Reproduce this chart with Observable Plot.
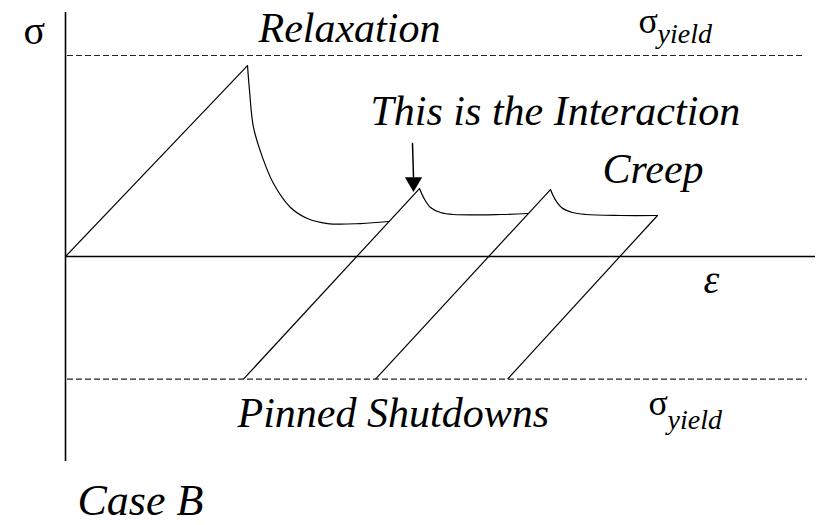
<!DOCTYPE html>
<html><head><meta charset="utf-8">
<script src="https://cdn.jsdelivr.net/npm/d3@7"></script>
<script src="https://cdn.jsdelivr.net/npm/@observablehq/plot@0.6"></script>
<style>
body{margin:0;background:#fff}
svg text{font-family:"Liberation Serif","Times New Roman",Times,Tinos,"DejaVu Serif","Noto Serif",serif !important}
</style>
</head><body><div id="chart"></div>
<script>
// Schematic stress (σ, normalised to σ_yield = 1) versus strain (ε) — Case B
const yieldTop = 1.0;
const yieldBottom = -0.61;

// straight elastic loading / unloading segments [ε1, σ1, ε2, σ2]
const loadStrainStart = [0.00, 1.78, 3.10, 4.42];
const loadStressStart = [0.00, -0.61, -0.61, -0.61];
const loadStrainEnd   = [1.82, 3.54, 4.85, 5.92];
const loadStressEnd   = [0.950, 0.338, 0.333, 0.204];

// relaxation after the first peak
const relaxStrain = [1.82, 1.84, 1.88, 1.97, 2.08, 2.25, 2.42, 2.62, 2.95, 3.23];
const relaxStress = [0.950, 0.826, 0.642, 0.493, 0.363, 0.244, 0.189, 0.164, 0.164, 0.174];
// interaction peak 2
const creep2Strain = [3.54, 3.58, 3.65, 3.75, 3.88, 4.35, 4.62];
const creep2Stress = [0.338, 0.294, 0.244, 0.219, 0.209, 0.209, 0.214];
// interaction peak 3
const creep3Strain = [4.85, 4.89, 4.96, 5.07, 5.20, 5.55, 5.92];
const creep3Stress = [0.333, 0.289, 0.244, 0.219, 0.209, 0.204, 0.204];

// arrow pointing at the interaction peak
const arrowStrain = [3.47, 3.48];
const arrowStress = [0.562, 0.395];

// annotations
const italicLabels = ["Relaxation", "This is the Interaction", "Creep", "Pinned Shutdowns"];
const italicLabelStrain = [1.93, 3.05, 5.37, 1.72];
const italicLabelStress = [1.065, 0.652, 0.368, -0.846];
const sigmaLabelStrain = [5.73, 5.83];
const sigmaLabelStress = [1.114, -0.791];
const yieldLabelStrain = [5.92, 6.02];
const yieldLabelStress = [1.060, -0.856];

const segs = loadStrainStart.map((d, i) => ({x1: d, y1: loadStressStart[i], x2: loadStrainEnd[i], y2: loadStressEnd[i]}));
const curve = (xs, ys, name) => xs.map((x, i) => ({x, y: ys[i], name}));
const curves = [
  ...curve(relaxStrain, relaxStress, "relax"),
  ...curve(creep2Strain, creep2Stress, "c2"),
  ...curve(creep3Strain, creep3Stress, "c3")
];
const italics = italicLabels.map((t, i) => ({t, x: italicLabelStrain[i], y: italicLabelStress[i]}));
const sigmas = sigmaLabelStrain.map((x, i) => ({x, y: sigmaLabelStress[i]}));
const yields = yieldLabelStrain.map((x, i) => ({x, y: yieldLabelStress[i]}));

const chart = Plot.plot({
  width: 819, height: 525,
  margin: 0,
  x: {domain: [-0.65, 7.54], axis: null},
  y: {domain: [-1.3383, 1.2736], axis: null},
  style: {background: "white", color: "black"},
  marks: [
    // axes
    Plot.ruleX([0], {y1: -1.02, y2: 1.214, stroke: "black", strokeWidth: 1.6}),
    Plot.ruleY([0], {x1: 0, x2: 7.5, stroke: "black", strokeWidth: 1.6}),
    // yield levels
    Plot.ruleY([yieldTop], {x1: 0.02, x2: 7.38, stroke: "#222", strokeWidth: 1.2, strokeDasharray: "6,3"}),
    Plot.ruleY([yieldBottom], {x1: 0.02, x2: 7.42, stroke: "#222", strokeWidth: 1.2, strokeDasharray: "6,3"}),
    // loading lines
    Plot.link(segs, {x1: "x1", y1: "y1", x2: "x2", y2: "y2", stroke: "black", strokeWidth: 1.2}),
    // relaxation / creep curves
    Plot.line(curves, {x: "x", y: "y", z: "name", curve: "catmull-rom", stroke: "black", strokeWidth: 1.2}),
    // arrow
    Plot.line(arrowStrain.map((x, i) => ({x, y: arrowStress[i]})), {x: "x", y: "y", stroke: "black", strokeWidth: 1.5}),
    Plot.dot([{x: arrowStrain[1], y: arrowStress[1] - 0.025}], {x: "x", y: "y", symbol: "triangle", r: 6.4, rotate: 180, fill: "black", stroke: "none"}),
    // texts
    Plot.text(["σ"], {x: -0.42, y: 1.055, textAnchor: "start", lineAnchor: "bottom", fontSize: 40, fill: "black"}),
    Plot.text(italics, {x: "x", y: "y", text: "t", textAnchor: "start", lineAnchor: "bottom", fontSize: 42, fontStyle: "italic", fill: "black"}),
    Plot.text(sigmas, {x: "x", y: "y", text: () => "σ", textAnchor: "start", lineAnchor: "bottom", fontSize: 36, fill: "black"}),
    Plot.text(yields, {x: "x", y: "y", text: () => "yield", textAnchor: "start", lineAnchor: "bottom", fontSize: 28, fontStyle: "italic", fill: "black"}),
    Plot.text(["ε"], {x: 6.38, y: -0.184, textAnchor: "start", lineAnchor: "bottom", fontSize: 40, fontStyle: "italic", fill: "black"}),
    Plot.text(["Case B"], {x: 0.12, y: -1.288, textAnchor: "start", lineAnchor: "bottom", fontSize: 44, fontStyle: "italic", fill: "black"})
  ]
});
document.getElementById("chart").appendChild(chart);
</script>
</body></html>
